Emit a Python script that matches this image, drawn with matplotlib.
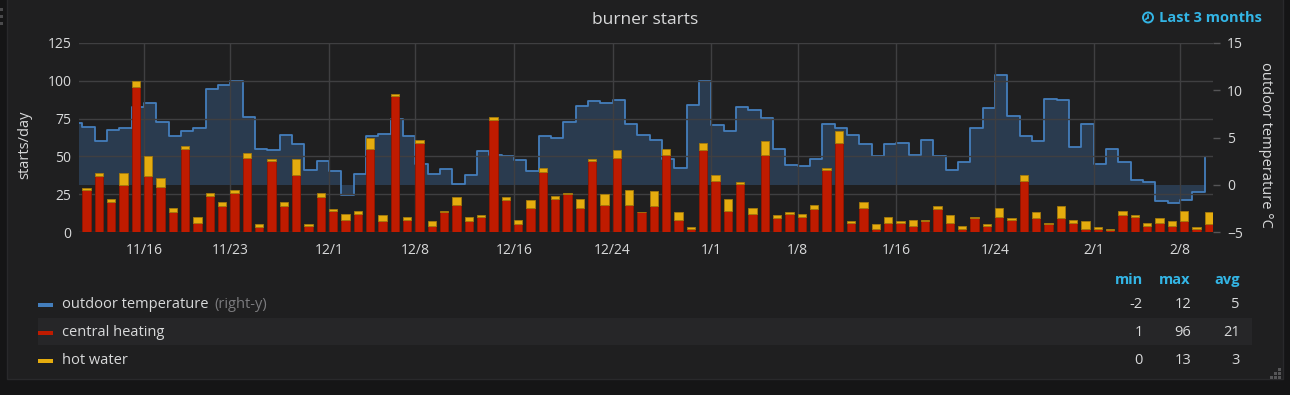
import numpy as np
import pandas as pd
import matplotlib
matplotlib.use("Agg")
import matplotlib.pyplot as plt
from matplotlib.patches import Rectangle, Circle
from matplotlib.lines import Line2D
from matplotlib.ticker import FixedLocator, FixedFormatter
import matplotlib.dates as mdates

plt.rcParams['font.family'] = ['Open Sans', 'DejaVu Sans']

# daily burner starts, 2017-11-11 .. 2018-02-10
central_heating = [28, 37, 20, 31, 96, 37, 30, 13, 55, 6, 24, 17, 26, 49, 3, 47, 17, 38, 4, 23,
                   14, 8, 12, 55, 7, 90, 8, 59, 4, 13, 18, 7, 10, 74, 21, 5, 16, 40, 22, 25,
                   16, 47, 18, 49, 18, 13, 17, 51, 8, 2, 54, 34, 14, 32, 12, 51, 9, 12, 10, 15,
                   41, 59, 6, 16, 2, 6, 6, 4, 7, 15, 6, 2, 9, 4, 10, 8, 34, 9, 5, 9,
                   6, 2, 2, 1, 11, 10, 4, 6, 4, 7, 2, 5]
hot_water = [1, 2, 2, 8, 4, 13, 6, 3, 2, 4, 2, 3, 2, 3, 2, 1, 3, 10, 1, 3,
             1, 4, 2, 7, 4, 1, 2, 2, 3, 1, 5, 3, 1, 2, 2, 3, 5, 2, 2, 1,
             6, 1, 7, 5, 10, 0, 10, 4, 5, 1, 5, 4, 8, 1, 4, 9, 2, 1, 2, 3,
             1, 8, 1, 4, 3, 4, 1, 4, 1, 2, 5, 2, 1, 1, 6, 1, 4, 4, 1, 8,
             2, 5, 1, 1, 3, 1, 2, 3, 3, 7, 1, 8]
# outdoor temperature, 2017-11-10 .. 2018-02-10
outdoor_temp = [6.56, 6.1, 4.6, 5.78, 6.03, 8.19, 8.69, 6.6, 5.14, 5.67, 6.03,
                10.18, 10.53, 10.96, 7.13, 3.76, 3.65, 5.25, 4.26, 1.52, 2.48,
                1.42, -1.1, 1.1, 5.21, 5.35, 6.91, 5.14, 2.16, 1.17, 1.63,
                0.04, 0.99, 3.55, 3.19, 3.05, 2.59, 1.42, 5.21, 4.96, 6.67,
                8.33, 8.87, 8.65, 9.01, 6.45, 5.25, 4.72, 2.70, 1.74, 8.44,
                10.96, 6.35, 5.71, 8.23, 7.87, 7.09, 3.83, 2.06, 1.99, 2.70,
                6.45, 6.03, 5.25, 4.36, 3.09, 4.36, 4.47, 3.16, 4.72, 3.01,
                1.56, 2.41, 6.03, 8.09, 11.6, 7.30, 5.11, 4.61, 9.08, 8.97,
                4.04, 6.38, 2.16, 3.83, 2.45, 0.46, 0.28, -1.70, -1.91, -1.63,
                -0.78, 2.94]
tick_dates = ["2017-11-16", "2017-11-23", "2017-12-01", "2017-12-08", "2017-12-16", "2017-12-24",
              "2018-01-01", "2018-01-08", "2018-01-16", "2018-01-24", "2018-02-01", "2018-02-08"]
left_ticks = [0, 25, 50, 75, 100, 125]
right_ticks = [-5, 0, 5, 10, 15]

bar_days = pd.date_range("2017-11-11", periods=len(central_heating), freq="D")
temp_days = pd.date_range("2017-11-10", periods=len(outdoor_temp), freq="D")
xb = mdates.date2num(bar_days)
xt = mdates.date2num(temp_days)

TEXT = "#d8d9da"
BLUE_HDR = "#33b5e5"
GRID = "#3f3f41"
C_TEMP = "#447ebc"
C_CH = "#bf1b00"
C_HW = "#e5ac0e"

W, H = 1290, 395
fig = plt.figure(figsize=(W / 100, H / 100), dpi=100, facecolor="#151516")


def fx(x):
    return x / W


def fy(y):
    return 1 - y / H


# panel background (drawn under the axes)
fig.patches.append(Rectangle((fx(7), fy(379)), fx(1283) - fx(7), fy(-2) - fy(379),
                             transform=fig.transFigure, facecolor="#1f1f20",
                             edgecolor="#29292b", lw=1, zorder=-10))
# drag handle and resize dots
for yy in (8, 15, 22):
    fig.patches.append(Rectangle((fx(0), fy(yy + 3)), fx(3), fy(yy) - fy(yy + 3),
                                 transform=fig.transFigure, facecolor="#4a4a4c", lw=0,
                                 zorder=-5))
for (dx, dy) in [(1279, 369), (1275, 373), (1279, 373), (1271, 377), (1275, 377), (1279, 377)]:
    fig.patches.append(Rectangle((fx(dx - 1.5), fy(dy + 1.5)), 3 / W, 3 / H,
                                 transform=fig.transFigure, facecolor="#555557", lw=0,
                                 zorder=-5))

ax1 = fig.add_axes([fx(78.5), fy(232), fx(1213) - fx(78.5), fy(43) - fy(232)])
ax2 = ax1.twinx()
ax2.set_zorder(1)
ax1.set_zorder(2)
ax1.patch.set_visible(False)
ax2.patch.set_visible(False)

# outdoor temperature (right axis)
ax2.plot(xt, outdoor_temp, drawstyle="steps-post", color=C_TEMP, lw=1.3)
ax2.fill_between(xt, outdoor_temp, 0, step="post", color=C_TEMP, alpha=0.3, lw=0)

# stacked bars
ax1.bar(xb, central_heating, width=0.68, align="edge", color=C_CH,
        edgecolor="#931500", lw=0.6)
ax1.bar(xb, hot_water, width=0.68, align="edge", bottom=central_heating, color=C_HW,
        edgecolor="#a57b0c", lw=0.6)

ax1.set_xlim(xb[0] - 0.31, xb[0] + 91.68)
ax1.set_ylim(0, 125)
ax2.set_ylim(-5, 15)

tick_x = mdates.date2num(pd.to_datetime(tick_dates))
tick_lbl = [f"{d.month}/{d.day}" for d in pd.to_datetime(tick_dates)]
ax1.xaxis.set_major_locator(FixedLocator(tick_x))
ax1.xaxis.set_major_formatter(FixedFormatter(tick_lbl))
ax1.set_yticks(left_ticks)
ax2.set_yticks(right_ticks)

ax1.set_axisbelow(True)
ax1.grid(True, color=GRID, lw=1)
for ax in (ax1, ax2):
    for s in ax.spines.values():
        s.set_visible(False)
ax1.tick_params(axis="x", length=0, pad=8, labelsize=10, labelcolor=TEXT)
ax1.tick_params(axis="y", length=0, pad=5, labelsize=10, labelcolor=TEXT)
ax2.tick_params(axis="y", length=5, width=1, color="#555557", pad=5, labelsize=10,
                labelcolor=TEXT)

fig.text(fx(25), fy(145), "starts/day", rotation=90, ha="center", va="center",
         color=TEXT, fontsize=10.5)
fig.text(fx(1266), fy(145), "outdoor temperature °C", rotation=270, ha="center",
         va="center", color=TEXT, fontsize=10.5)

# title and time range
fig.text(0.5, fy(20), "burner starts", ha="center", va="center", color=TEXT,
         fontsize=12.5, fontweight="medium")
fig.text(fx(1159), fy(18), "Last 3 months", ha="left", va="center", color=BLUE_HDR,
         fontsize=10.5, fontweight="bold")
cx, cy = 1148 / 100, (H - 17.5) / 100
fig.patches.append(Circle((cx, cy), 0.05, transform=fig.dpi_scale_trans, fill=False,
                          edgecolor=BLUE_HDR, lw=1.4))
fig.lines.append(Line2D([cx, cx], [cy, cy + 0.03], transform=fig.dpi_scale_trans,
                        color=BLUE_HDR, lw=1.2))
fig.lines.append(Line2D([cx, cx - 0.022], [cy, cy - 0.018], transform=fig.dpi_scale_trans,
                        color=BLUE_HDR, lw=1.2))

# legend table
fig.patches.append(Rectangle((fx(38), fy(345)), fx(1252) - fx(38), fy(318) - fy(345),
                             transform=fig.transFigure, facecolor="#262628", lw=0,
                             zorder=-5))
cols = [1143, 1191, 1240]
for x, h in zip(cols, ["min", "max", "avg"]):
    fig.text(fx(x), fy(280), h, ha="right", va="center", color=BLUE_HDR,
             fontsize=10.5, fontweight="bold")

series = [("outdoor temperature", C_TEMP, outdoor_temp, 304),
          ("central heating", C_CH, central_heating, 332),
          ("hot water", C_HW, hot_water, 360)]
name_txt = None
for name, col, vals, y in series:
    fig.patches.append(Rectangle((fx(38), fy(y + 2.5)), fx(15), fy(y - 1) - fy(y + 2.5),
                                 transform=fig.transFigure, facecolor=col, lw=0))
    t = fig.text(fx(62), fy(y), name, ha="left", va="center", color=TEXT, fontsize=10.5)
    if name_txt is None:
        name_txt = t
    stats = [np.min(vals), np.max(vals), np.mean(vals)]
    for x, v in zip(cols, stats):
        fig.text(fx(x), fy(y), f"{v:.0f}", ha="right", va="center", color=TEXT, fontsize=10.5)

# "(right-y)" marker after the first series name
fig.canvas.draw()
ext = name_txt.get_window_extent()
fig.text((ext.x1 + 6) / W, fy(304), "(right-y)", ha="left", va="center",
         color="#7b7b7e", fontsize=10.5)

fig.savefig("out.png", dpi=100, facecolor=fig.get_facecolor())
